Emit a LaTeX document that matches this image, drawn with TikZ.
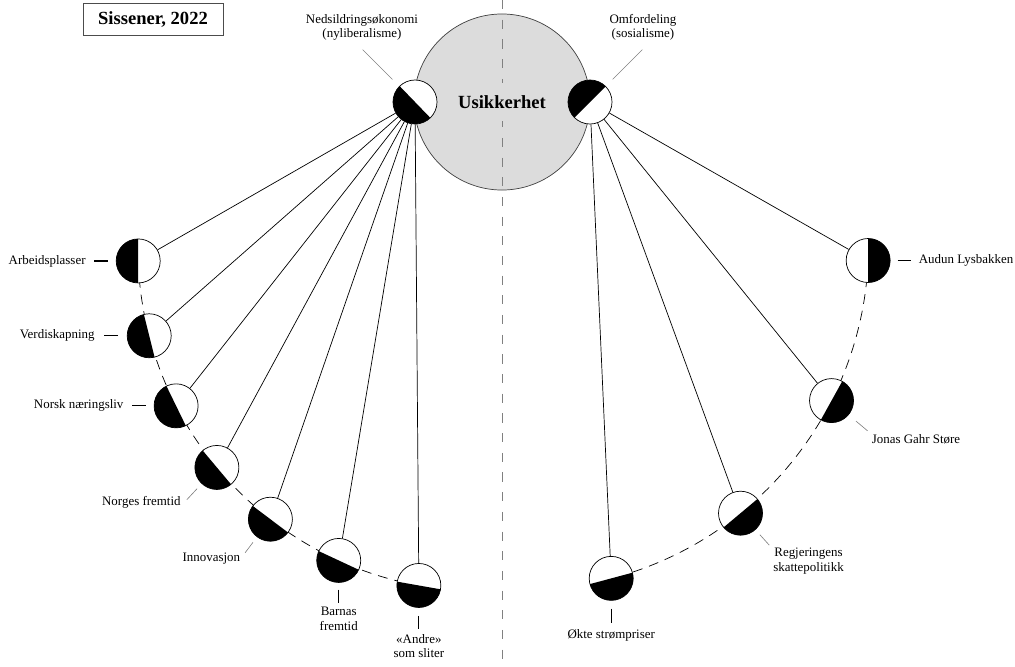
\documentclass[tikz,border=0pt]{standalone}
\usepackage{fontspec}
\setmainfont{Liberation Serif}
\usetikzlibrary{calc,positioning}
\definecolor{usgrey}{HTML}{DCDCDC}
\newcommand{\lblsize}{\fontsize{9.2}{10.4}\selectfont}
\newcommand{\boldsize}{\fontsize{13.2}{15}\selectfont\bfseries}
\tikzset{
    halfdisc/.style={circle, draw, line width=0.5pt, fill=white, minimum size=1.1cm, inner sep=0pt,
      path picture={\fill[black] (path picture bounding box.center) -- ++({#1-90}:1cm)
        arc[start angle={#1-90}, delta angle=180, radius=1cm] -- cycle;}},
    lbl/.style={font=\lblsize, inner sep=0pt, align=center},
    lbltick/.style={line width=0.9pt},
    leader/.style={draw=gray, line width=0.45pt},
    link/.style={line width=0.5pt},
    arcline/.style={line width=0.5pt, dash pattern=on 7pt off 5pt},
}

\begin{document}
\begin{tikzpicture}[x=0.025cm, y=0.025cm]
\useasboundingbox (0,0) rectangle (1015,-666);
\node[draw=black!70, line width=0.5pt, font=\boldsize, minimum width=3.5cm,
    minimum height=0.8cm] (title) at (153,-19) {Sissener, 2022};
% midten
\node[circle, draw=black!75, line width=0.5pt, fill=usgrey, minimum size=4.4cm] (usik) at (502,-102) {};
\coordinate (midtop) at (502,0);
\coordinate (midbot) at (502,-666);
\draw[gray, line width=0.6pt, dash pattern=on 6.5pt off 7.5pt] (midtop) -- (midbot);
\node[fill=usgrey, font=\boldsize, inner xsep=2pt, inner ysep=0.3cm] (usiktxt) at (usik) {Usikkerhet};
\node[halfdisc=224] (ned) at (415,-102) {};
\node[halfdisc=135] (omf) at (590,-102) {};
\node[lbl] (nedlbl) at ([shift={(-53,74.5)}]ned.center) {Nedsildringsøkonomi\\(nyliberalisme)};
\node[lbl] (omflbl) at ([shift={(53,74.5)}]omf.center) {Omfordeling\\(sosialisme)};
\draw[leader] ([shift={(135:32)}]ned.center) -- ([shift={(135:74)}]ned.center);
\draw[leader] ([shift={(45:32)}]omf.center) -- ([shift={(45:74)}]omf.center);
% buene
\coordinate (lc) at (480,-249);
\coordinate (rc) at (524.5,-245.5);
\draw[arcline] ($(lc)+(182:342)$) arc[start angle=182, end angle=259.7, radius=8.55cm];
\draw[arcline] ($(rc)+(-2.5:344)$) arc[start angle=-2.5, end angle=-75.4, radius=8.6cm];
% venstre side
\node[halfdisc=180] (arb) at ($(lc)+(182:342)$) {};
\node[halfdisc=194] (verd) at ($(lc)+(194.7:342)$) {};
\node[halfdisc=206] (norsk) at ($(lc)+(207.3:342)$) {};
\node[halfdisc=220] (norges) at ($(lc)+(219.7:342)$) {};
\node[halfdisc=233] (innov) at ($(lc)+(232.2:342)$) {};
\node[halfdisc=245] (barn) at ($(lc)+(245.6:342)$) {};
\node[halfdisc=260] (andre) at ($(lc)+(259.7:342)$) {};
% høyre side
\node[halfdisc=0] (audun) at ($(rc)+(-2.5:344)$) {};
\node[halfdisc=-29] (jonas) at ($(rc)+(-26.8:344)$) {};
\node[halfdisc=-50] (regj) at ($(rc)+(-51.1:344)$) {};
\node[halfdisc=-75] (strom) at ($(rc)+(-75.4:344)$) {};
\draw[link] (ned) -- (arb);
\draw[link] (ned) -- (verd);
\draw[link] (ned) -- (norsk);
\draw[link] (ned) -- (norges);
\draw[link] (ned) -- (innov);
\draw[link] (ned) -- (barn);
\draw[link] (ned) -- (andre);
\draw[link] (omf) -- (audun);
\draw[link] (omf) -- (jonas);
\draw[link] (omf) -- (regj);
\draw[link] (omf) -- (strom);
% etiketter
\node[lbl, left=0.75cm of arb] (arblbl) {Arbeidsplasser};
\draw[lbltick] ([xshift=-0.2cm]arb.west) -- ([xshift=0.2cm]arblbl.east);
\node[lbl, left=0.8cm of verd] (verdlbl) {Verdiskapning};
\draw[lbltick] ([xshift=-0.22cm]verd.west) -- ([xshift=0.22cm]verdlbl.east);
\node[lbl, left=0.75cm of norsk] (norsklbl) {Norsk næringsliv};
\draw[lbltick] ([xshift=-0.2cm]norsk.west) -- ([xshift=0.2cm]norsklbl.east);
\node[lbl, anchor=east] (norgeslbl) at ([shift={(-36,-35)}]norges.center) {Norges fremtid};
\draw[leader] ([shift={(227:29)}]norges.center) -- ([shift={(227:44)}]norges.center);
\node[lbl, anchor=east] (innovlbl) at ([shift={(-30,-39)}]innov.center) {Innovasjon};
\draw[leader] ([shift={(233:29)}]innov.center) -- ([shift={(233:42)}]innov.center);
\node[lbl, below=0.6cm of barn] (barnlbl) {Barnas\\fremtid};
\draw[lbltick] ([yshift=-0.17cm]barn.south) -- ([yshift=0.1cm]barnlbl.north);
\node[lbl, below=0.65cm of andre] (andrelbl) {«Andre»\\som sliter};
\draw[lbltick] ([yshift=-0.2cm]andre.south) -- ([yshift=0.12cm]andrelbl.north);
\node[lbl, below=0.7cm of strom] (stromlbl) {Økte strømpriser};
\draw[lbltick] ([yshift=-0.2cm]strom.south) -- ([yshift=0.15cm]stromlbl.north);
\node[lbl] (regjlbl) at ([shift={(68,-48)}]regj.center) {Regjeringens\\skattepolitikk};
\draw[leader] ([shift={(-48:29)}]regj.center) -- ([shift={(-48:43)}]regj.center);
\node[lbl, anchor=west] (jonaslbl) at ([shift={(40,-39)}]jonas.center) {Jonas Gahr Støre};
\draw[leader] ([shift={(-40:32)}]jonas.center) -- ([shift={(-40:47)}]jonas.center);
\node[lbl, right=0.7cm of audun] (audunlbl) {Audun Lysbakken};
\draw[lbltick] ([xshift=0.18cm]audun.east) -- ([xshift=-0.2cm]audunlbl.west);
\end{tikzpicture}
\end{document}
